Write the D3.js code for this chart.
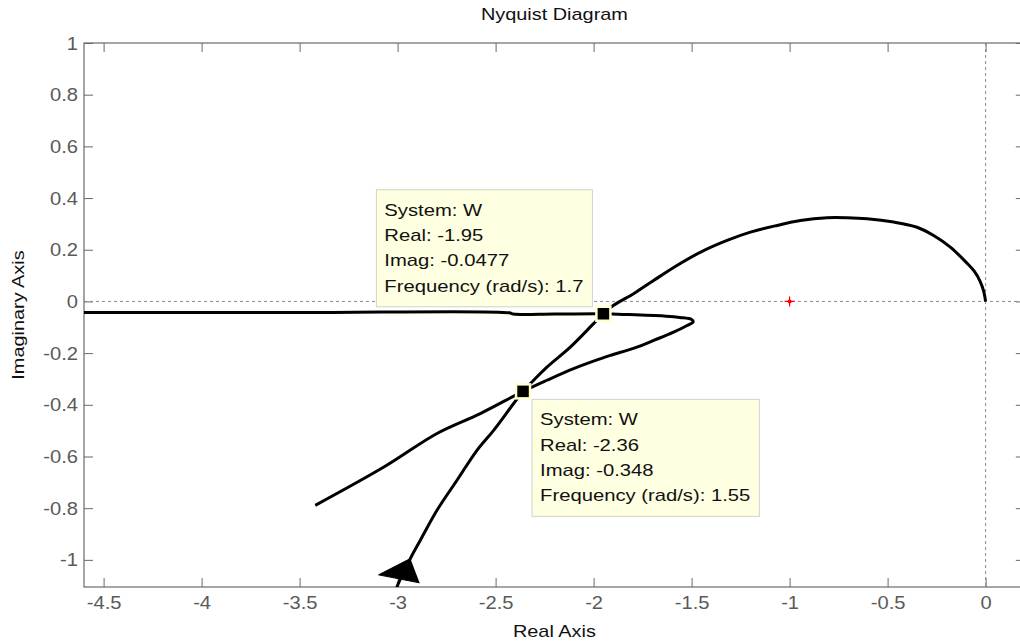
<!DOCTYPE html>
<html>
<head>
<meta charset="utf-8">
<script src="https://cdn.jsdelivr.net/npm/d3@7"></script>
<style>
  body { margin: 0; background: #fff; }
  svg { display: block; font-family: "Liberation Sans", Arial, sans-serif; }
</style>
</head>
<body>
<svg id="chart" width="1020" height="642"></svg>
<script>
// Nyquist curve (real, imag)
var branchArc = [
  [0, 0], [-0.01, 0.04], [-0.028, 0.078], [-0.058, 0.117], [-0.1, 0.152], [-0.18, 0.21],
  [-0.265, 0.255], [-0.35, 0.287], [-0.469, 0.307], [-0.605, 0.32], [-0.707, 0.324],
  [-0.809, 0.324], [-0.945, 0.313], [-1.064, 0.294], [-1.2, 0.268], [-1.319, 0.236],
  [-1.456, 0.19], [-1.575, 0.139], [-1.694, 0.081], [-1.796, 0.03], [-1.898, -0.015],
  [-1.95, -0.0477], [-2.0, -0.086], [-2.119, -0.177], [-2.238, -0.254], [-2.306, -0.305],
  [-2.36, -0.348], [-2.408, -0.395], [-2.51, -0.499], [-2.595, -0.576], [-2.697, -0.692],
  [-2.799, -0.808], [-2.884, -0.924], [-2.935, -0.995], [-3.003, -1.104], [-3.02, -1.15]
];
var branchLoop = [
  [-3.42, -0.789], [-3.068, -0.64], [-2.799, -0.511], [-2.578, -0.434], [-2.36, -0.348],
  [-2.238, -0.305], [-2.102, -0.26], [-1.966, -0.222], [-1.915, -0.209], [-1.779, -0.177],
  [-1.694, -0.151], [-1.592, -0.119], [-1.523, -0.093], [-1.492, -0.079], [-1.5, -0.07],
  [-1.56, -0.062], [-1.63, -0.057], [-1.82, -0.051], [-1.95, -0.048], [-2.2, -0.049],
  [-2.41, -0.049], [-2.43, -0.044], [-3.5, -0.043], [-4.7, -0.043]
];
var arrowHead = [[-2.935, -0.995], [-3.097, -1.058], [-2.888, -1.089]];
var criticalPoint = [-1, 0];

var dataTips = [
  { system: "W", real: -1.95, imag: -0.0477, freq: 1.7, place: "above-left" },
  { system: "W", real: -2.36, imag: -0.348, freq: 1.55, place: "below-right" }
];

var xTicks = [-4.5, -4, -3.5, -3, -2.5, -2, -1.5, -1, -0.5, 0];
var yTicks = [-1, -0.8, -0.6, -0.4, -0.2, 0, 0.2, 0.4, 0.6, 0.8, 1];

var svg = d3.select("#chart");
var plotLeft = 84, plotTop = 43, plotBottom = 587;

var x = d3.scaleLinear().domain([-4.6, 0.2]).range([plotLeft, plotLeft + 4.8 * 196]);
var y = d3.scaleLinear().domain([-1.105, 1]).range([plotBottom, plotTop]);
var plotRight = x(0.2);
var midX = (plotLeft + plotRight) / 2, midY = (plotTop + plotBottom) / 2;

// the original (MATLAB Helvetica) text runs wider than Liberation Sans
function widen(sel, k) {
  sel.each(function() {
    var n = this;
    n.setAttribute("textLength", n.getComputedTextLength() * k);
    n.setAttribute("lengthAdjust", "spacingAndGlyphs");
  });
}

svg.append("defs").append("clipPath").attr("id", "plotclip")
  .append("rect").attr("x", plotLeft).attr("y", plotTop)
  .attr("width", plotRight - plotLeft).attr("height", plotBottom - plotTop);

// axes with inward ticks
var axisColor = "#6a6a6a", labelColor = "#5a5a5a";
var plain = function(d) { return String(d); };
function styleAxis(g) {
  g.select(".domain").remove();
  g.selectAll(".tick line").attr("stroke", axisColor);
  g.selectAll(".tick text").attr("fill", labelColor)
    .style("font-size", "19px").style("font-family", "Liberation Sans, Arial, sans-serif")
    .call(widen, 1.06);
}
svg.append("g").attr("transform", "translate(0," + plotBottom + ")")
  .call(d3.axisBottom(x).tickValues(xTicks).tickSizeInner(-9).tickSizeOuter(0).tickPadding(9)
    .tickFormat(plain))
  .call(styleAxis);
svg.append("g").attr("transform", "translate(0," + plotTop + ")")
  .call(d3.axisTop(x).tickValues(xTicks).tickSizeInner(-9).tickSizeOuter(0).tickFormat(""))
  .call(styleAxis);
svg.append("g").attr("transform", "translate(" + plotLeft + ",0)")
  .call(d3.axisLeft(y).tickValues(yTicks).tickSizeInner(-9).tickSizeOuter(0).tickPadding(6)
    .tickFormat(plain))
  .call(styleAxis);
svg.append("g").attr("transform", "translate(" + plotRight + ",0)")
  .call(d3.axisRight(y).tickValues(yTicks).tickSizeInner(-9).tickSizeOuter(0).tickFormat(""))
  .call(styleAxis);

svg.append("rect").attr("x", plotLeft).attr("y", plotTop)
  .attr("width", plotRight - plotLeft).attr("height", plotBottom - plotTop)
  .attr("fill", "none").attr("stroke", axisColor).attr("stroke-width", 1.2);

var plot = svg.append("g").attr("clip-path", "url(#plotclip)");

// zero lines
plot.append("line").attr("x1", plotLeft).attr("x2", plotRight).attr("y1", y(0)).attr("y2", y(0))
  .attr("stroke", "#8a8a8a").attr("stroke-dasharray", "3,3");
plot.append("line").attr("x1", x(0)).attr("x2", x(0)).attr("y1", plotTop).attr("y2", plotBottom)
  .attr("stroke", "#8a8a8a").attr("stroke-dasharray", "3,3");

var line = d3.line().x(function(d) { return x(d[0]); }).y(function(d) { return y(d[1]); })
  .curve(d3.curveCatmullRom.alpha(0.5));

[branchArc, branchLoop].forEach(function(b) {
  plot.append("path").attr("d", line(b))
    .attr("fill", "none").attr("stroke", "#000").attr("stroke-width", 3)
    .attr("stroke-linejoin", "round");
});
plot.append("path").datum(arrowHead)
  .attr("d", d3.line().x(function(d) { return x(d[0]); }).y(function(d) { return y(d[1]); }))
  .attr("fill", "#000").attr("stroke", "#000").attr("stroke-width", 1);

// critical point
var cx = x(criticalPoint[0]), cy = y(criticalPoint[1]);
plot.append("path").attr("d", "M" + (cx - 5) + "," + cy + "H" + (cx + 5) + "M" + cx + "," + (cy - 5) + "V" + (cy + 5))
  .attr("stroke", "#ff0000").attr("stroke-width", 1.2);
plot.append("circle").attr("cx", cx).attr("cy", cy).attr("r", 2).attr("fill", "#ff0000");

// data tips
dataTips.forEach(function(t) {
  var px = x(t.real), py = y(t.imag);
  var lines = ["System: " + t.system, "Real: " + t.real, "Imag: " + t.imag,
               "Frequency (rad/s): " + t.freq];
  var g = svg.append("g");
  var box = g.append("rect").attr("fill", "#ffffe1").attr("stroke", "#d2d2c8");
  var txt = g.append("text").attr("fill", "#111").style("font-size", "17px");
  lines.forEach(function(s, i) {
    txt.append("tspan").attr("x", 8).attr("y", 26 + i * 25.3).text(s);
  });
  txt.selectAll("tspan").call(widen, 1.19);
  var bb = txt.node().getBBox();
  var w = bb.width + 17, h = 117;
  box.attr("width", w).attr("height", h);
  var bx = t.place === "above-left" ? px - 11 - w : px + 9;
  var by = t.place === "above-left" ? py - 7 - h : py + 8;
  g.attr("transform", "translate(" + bx + "," + by + ")");

  svg.append("rect").attr("x", px - 7).attr("y", py - 7).attr("width", 14).attr("height", 14)
    .attr("fill", "#000").attr("stroke", "#ffffd0").attr("stroke-width", 2.5);
});

// titles
svg.append("text").attr("x", midX).attr("y", 20).attr("text-anchor", "middle")
  .attr("fill", "#111").style("font-size", "17px").text("Nyquist Diagram").call(widen, 1.17);
svg.append("text").attr("x", midX).attr("y", 637).attr("text-anchor", "middle")
  .attr("fill", "#111").style("font-size", "17px").text("Real Axis").call(widen, 1.17);
svg.append("text").attr("transform", "translate(24," + midY + ") rotate(-90)")
  .attr("text-anchor", "middle").attr("fill", "#111").style("font-size", "17px")
  .text("Imaginary Axis").call(widen, 1.17);
</script>
</body>
</html>
